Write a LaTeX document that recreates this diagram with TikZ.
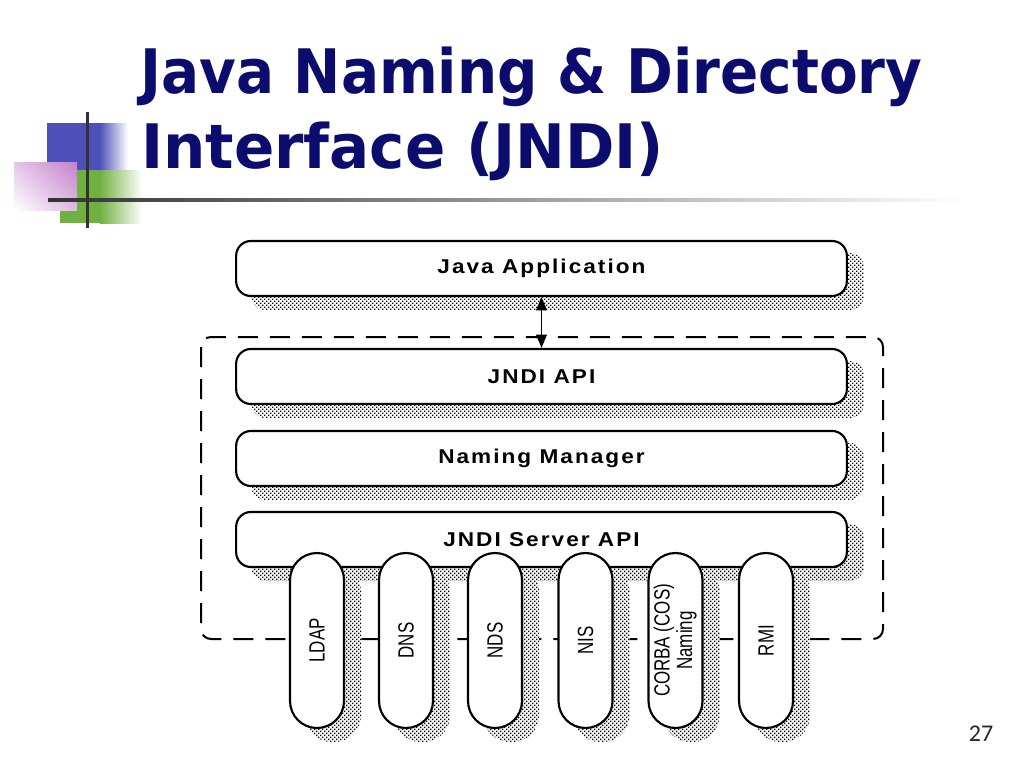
\documentclass[tikz,border=0pt]{standalone}
\usepackage{fontspec}
\setmainfont{DejaVu Sans}
\newfontfamily\titlefont{DejaVu Sans}
\newfontfamily\labfont[LetterSpace=9]{Liberation Sans}
\newfontfamily\pillfont{Liberation Sans}
\newfontfamily\numfont{Carlito}
\usetikzlibrary{arrows.meta,patterns,calc,shadings}
\pgfdeclarelayer{bg}
\pgfsetlayers{bg,main}
\pgfdeclarepatternformonly{shdots}{\pgfqpoint{-1pt}{-1pt}}{\pgfqpoint{4pt}{4pt}}{\pgfqpoint{3pt}{3pt}}{%
  \pgfpathrectangle{\pgfqpoint{0pt}{0pt}}{\pgfqpoint{1.1pt}{1.1pt}}%
  \pgfpathrectangle{\pgfqpoint{1.5pt}{1.5pt}}{\pgfqpoint{1.1pt}{1.1pt}}%
  \pgfusepath{fill}}
\definecolor{navy}{RGB}{12,12,110}
\definecolor{blueD}{RGB}{76,80,184}
\definecolor{greenD}{RGB}{112,176,64}
\definecolor{pinkD}{RGB}{196,128,204}
\definecolor{lineD}{RGB}{50,50,50}
\tikzset{
  layerbox/.style={draw, line width=1.6pt, fill=white, rounded corners=11pt,
    minimum width=458pt, minimum height=41.25pt, inner sep=0pt,
    font=\labfont\bfseries\fontsize{15}{15}\selectfont},
  pillbox/.style={draw, line width=1.6pt, fill=white, rounded corners=20.25pt,
    minimum width=40.5pt, minimum height=131.25pt, inner sep=0pt,
    font=\pillfont\fontsize{16.5}{20}\selectfont},
  shadowfill/.style={preaction={fill=white}, pattern=shdots},
  framebox/.style={dash pattern=on 15pt off 9pt, line width=1.5pt, rounded corners=7.5pt},
  arr/.style={line width=1.2pt, {Triangle[length=10pt,width=8pt]}-{Triangle[length=10pt,width=8pt]}},
  titletext/.style={anchor=base west, text=navy, inner sep=0pt,
    font=\titlefont\bfseries\fontsize{46}{46}\selectfont}
}
\newcommand{\pilltext}[1]{\rotatebox{90}{\scalebox{0.77}[1]{#1}}}
\newcommand{\boxtext}[1]{\scalebox{1.13}[1]{#1}}
\begin{document}
\begin{tikzpicture}[x=0.75pt,y=-0.75pt]
\useasboundingbox (0,0) rectangle (1024,768);
% decoration
\fill[blueD] (47,123) rectangle (100,170);
\shade[left color=blueD, right color=white] (99.5,123) rectangle (128,170);
\fill[greenD] (60,170) rectangle (100,223);
\shade[left color=greenD, right color=white] (99.5,170) rectangle (142,223);
\shade[upper right=pinkD, lower left=white, upper left=pinkD!45!white, lower right=pinkD!55!white] (14,162) rectangle (77,210);
\shade[left color=lineD, right color=white] (48,198.5) rectangle (965,201.5);
\fill[lineD] (85.5,112) rectangle (88.5,228);
% title
\node[titletext] (t1) at (140,93) {\scalebox{0.92}[1]{Java Naming \& Directory}};
\node[titletext] (t2) at (141,168) {\scalebox{0.97}[1]{Interface (JNDI)}};
% boxes
\node[layerbox] (app) at (541.5,268.5) {\boxtext{Java Application}};
\node[layerbox] (api) at (541.5,376.5) {\boxtext{JNDI API}};
\node[layerbox] (mgr) at (541.5,458.5) {\boxtext{Naming Manager}};
\node[layerbox] (spi) at (541.5,539.5) {\boxtext{JNDI Server API}};
% pills
\node[pillbox] (p1) at (317,640.5) {\pilltext{LDAP}};
\node[pillbox] (p2) at (406,640.5) {\pilltext{DNS}};
\node[pillbox] (p3) at (495,640.5) {\pilltext{NDS}};
\node[pillbox] (p4) at (585.5,640.5) {\pilltext{NIS}};
\node[pillbox] (p5) at (675.5,640.5) {\rotatebox{90}{\scalebox{0.77}[1]{\begin{tabular}{@{}c@{}}CORBA (COS)\\[-3pt]Naming\end{tabular}}}};
\node[pillbox] (p6) at (766,640.5) {\pilltext{RMI}};
% arrow
\draw[arr] (app.south) -- (api.north);
% page number
\node[font=\numfont\fontsize{18}{18}\selectfont, text=black!85] (pg) at (981,734) {27};
% background: frame and shadows
\begin{pgfonlayer}{bg}
\fill[white] (0,0) rectangle (1024,768);
\draw[framebox] (201,337) rectangle (883,639);
\foreach \n in {app,api,mgr,spi}
  \path[shadowfill, rounded corners=11pt] ($(\n.south west)+(16,13)$) rectangle ($(\n.north east)+(16,13)$);
\foreach \n in {p1,p2,p3,p4,p5,p6}
  \path[shadowfill, rounded corners=20.25pt] ($(\n.south west)+(16,13)$) rectangle ($(\n.north east)+(16,13)$);
\end{pgfonlayer}
\end{tikzpicture}
\end{document}
